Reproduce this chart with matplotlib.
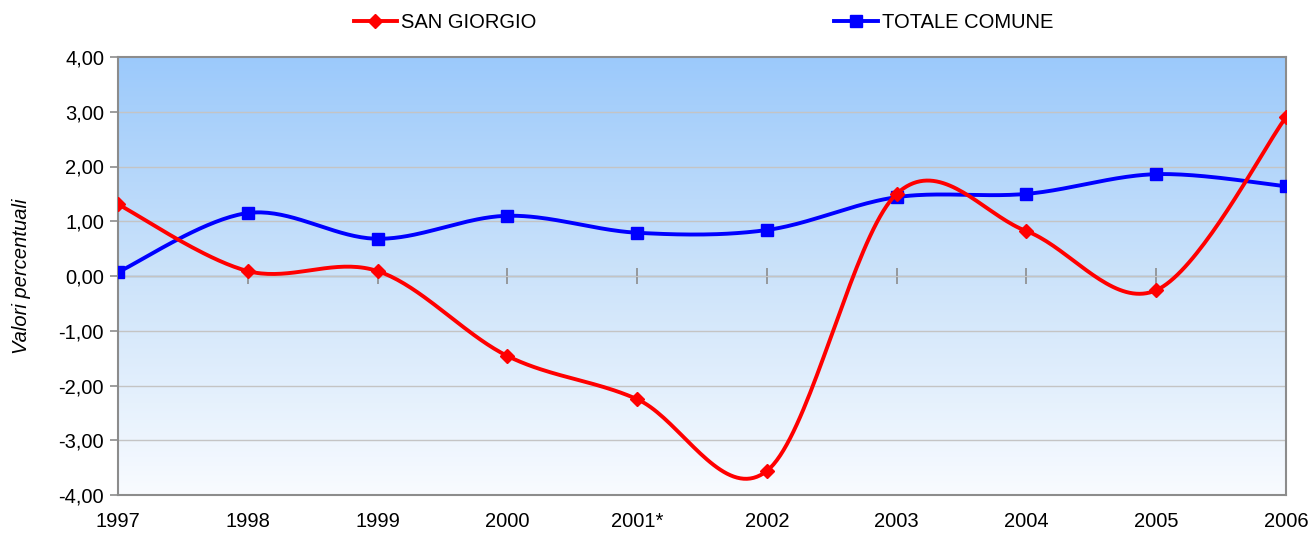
import numpy as np
import matplotlib
matplotlib.use("Agg")
import matplotlib.pyplot as plt
from matplotlib.ticker import FuncFormatter
from matplotlib.colors import LinearSegmentedColormap
from matplotlib.lines import Line2D

years = ["1997", "1998", "1999", "2000", "2001*", "2002", "2003", "2004", "2005", "2006"]
san_giorgio = [1.31, 0.09, 0.09, -1.46, -2.25, -3.56, 1.50, 0.82, -0.26, 2.90]
totale_comune = [0.07, 1.15, 0.68, 1.10, 0.79, 0.84, 1.44, 1.50, 1.86, 1.64]
y_ticks = [-4, -3, -2, -1, 0, 1, 2, 3, 4]

plt.rcParams['font.family'] = ['Liberation Sans', 'DejaVu Sans']
FS = 14.5


def smooth(xs, ys, n=40):
    """Excel-like smoothed line: Catmull-Rom via cubic Bezier segments."""
    xs = np.asarray(xs, float)
    ys = np.asarray(ys, float)
    px = np.concatenate([[xs[0]], xs, [xs[-1]]])
    py = np.concatenate([[ys[0]], ys, [ys[-1]]])
    outx, outy = [], []
    t = np.linspace(0, 1, n)
    for i in range(1, len(px) - 2):
        p0 = np.array([px[i], py[i]])
        p3 = np.array([px[i + 1], py[i + 1]])
        p1 = p0 + (np.array([px[i + 1], py[i + 1]]) - np.array([px[i - 1], py[i - 1]])) / 6.0
        p2 = p3 - (np.array([px[i + 2], py[i + 2]]) - np.array([px[i], py[i]])) / 6.0
        b = ((1 - t) ** 3)[:, None] * p0 + (3 * (1 - t) ** 2 * t)[:, None] * p1 + \
            (3 * (1 - t) * t ** 2)[:, None] * p2 + (t ** 3)[:, None] * p3
        outx.extend(b[:, 0])
        outy.extend(b[:, 1])
    return np.array(outx), np.array(outy)


fig = plt.figure(figsize=(13.1, 5.33), dpi=100)
ax = fig.add_axes([118 / 1310, (533 - 495) / 533, (1286 - 118) / 1310, (495 - 57) / 533])

x = np.arange(len(years))
ax.set_xlim(x[0], x[-1])
ax.set_ylim(y_ticks[0], y_ticks[-1])

# gradient background
cmap = LinearSegmentedColormap.from_list("bg", [(0.975, 0.985, 1.0), (0.80, 0.89, 0.98), (0.61, 0.79, 0.985)])
grad = np.linspace(0, 1, 256)[:, None]
ax.imshow(grad, cmap=cmap, aspect='auto', origin='lower',
          extent=[x[0], x[-1], y_ticks[0], y_ticks[-1]], zorder=0)

for yt in y_ticks[1:-1]:
    ax.axhline(yt, color='#c4c4c4', lw=1.0, zorder=1)

gray = '#8c8c8c'
sx, sy = smooth(x, san_giorgio)
tx, ty = smooth(x, totale_comune)
ax.plot(tx, ty, color='#0000ff', lw=2.8, zorder=3, solid_capstyle='round')
ax.plot(x, totale_comune, ls='none', marker='s', ms=9, color='#0000ff', zorder=4)
ax.plot(sx, sy, color='#ff0000', lw=2.8, zorder=5, solid_capstyle='round')
ax.plot(x, san_giorgio, ls='none', marker='D', ms=7, color='#ff0000', zorder=6)

for s in ax.spines.values():
    s.set_color(gray)
    s.set_linewidth(1.5)

ax.set_xticks(x)
ax.set_xticklabels(years, fontsize=FS)
ax.tick_params(axis='x', length=0, pad=12)
ax.set_yticks(y_ticks)
ax.yaxis.set_major_formatter(FuncFormatter(lambda v, p: f"{v:.2f}".replace('.', ',')))
ax.tick_params(axis='y', length=6, direction='out', color=gray, width=1.2, labelsize=FS, pad=4)
ax.set_ylabel("Valori percentuali", fontsize=FS, style='italic', labelpad=20)

# zero axis with category ticks
sec = ax.secondary_xaxis(0.5)
sec.set_xticks(x)
sec.set_xticklabels([])
sec.tick_params(direction='inout', length=11, color=gray, width=1.2)
sec.spines['bottom'].set_color(gray)
sec.spines['bottom'].set_linewidth(1.5)
sec.spines['bottom'].set_zorder(2)

h1 = Line2D([], [], color='#ff0000', lw=2.8, marker='D', ms=7)
h2 = Line2D([], [], color='#0000ff', lw=2.8, marker='s', ms=9)
fig.legend([h1, h2], ["SAN GIORGIO", "TOTALE COMUNE"], ncol=2, loc='center',
           bbox_to_anchor=(0.537, 0.957), frameon=False, fontsize=FS,
           handlelength=2.15, handletextpad=0.2, columnspacing=14.8)

fig.savefig("out.png", dpi=100)
